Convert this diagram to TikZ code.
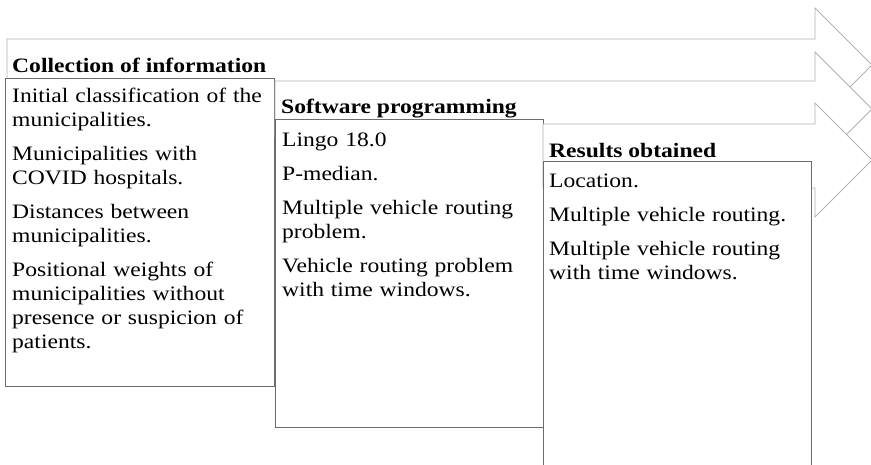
\documentclass[tikz,border=0pt]{standalone}
\usepackage{fontspec}
\setmainfont[FakeStretch=1.15]{Liberation Serif}
\begin{document}
\begin{tikzpicture}[x=1pt,y=-1pt,
  arrowshape/.style={draw=gray!60, fill=white, line width=0.9pt, line join=miter},
  infobox/.style={draw=gray!85!black, fill=white, line width=0.9pt},
  head/.style={inner sep=0pt, anchor=base west, font=\fontsize{20.5}{24}\selectfont\bfseries},
  body/.style={inner sep=0pt, anchor=base west, text width=258pt, align=left, font=\fontsize{20.5}{24}\selectfont}]
\useasboundingbox (0,0) rectangle (871,464);
% arrow 1
\draw[arrowshape] (7,39) -- (815,39) -- (815,8) -- (872,65) -- (815,122) -- (815,91) -- (7,91) -- cycle;
\node[head] (h1) at (12,72) {Collection of information};
\draw[infobox] (5,78) rectangle (274,386);
\node[body] (t1) at (12,102) {Initial classification of the\\municipalities.\\[10pt]Municipalities with\\COVID hospitals.\\[10pt]Distances between\\municipalities.\\[10pt]Positional weights of\\municipalities without\\presence or suspicion of\\patients.};
% arrow 2
\draw[arrowshape] (275,81) -- (815,81) -- (815,52) -- (872,109) -- (815,166) -- (815,137) -- (275,137) -- cycle;
\node[head] (h2) at (281,113) {Software programming};
\draw[infobox] (275,119) rectangle (543,427);
\node[body] (t2) at (282,146) {Lingo 18.0\\[10pt]P-median.\\[10pt]Multiple vehicle routing\\problem.\\[10pt]Vehicle routing problem\\with time windows.};
% arrow 3
\draw[arrowshape] (543,124) -- (815,124) -- (815,103) -- (872,160) -- (815,217) -- (815,188) -- (543,188) -- cycle;
\node[head] (h3) at (549,157) {Results obtained};
\draw[infobox] (543,161) rectangle (811,475);
\node[body] (t3) at (549,187) {Location.\\[10pt]Multiple vehicle routing.\\[10pt]Multiple vehicle routing\\with time windows.};
\end{tikzpicture}
\end{document}
